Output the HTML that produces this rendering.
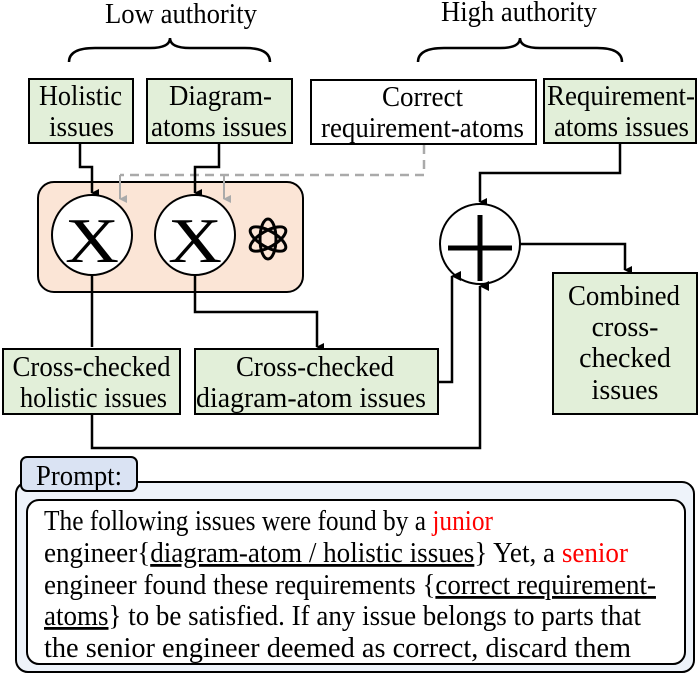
<!DOCTYPE html>
<html><head><meta charset="utf-8"></head><body style="margin:0;background:#fff;">
<svg width="698" height="675" viewBox="0 0 698 675" xmlns="http://www.w3.org/2000/svg" font-family="'Liberation Serif', 'Times New Roman', serif" font-size="28" style="font-family:'Liberation Serif','Times New Roman',serif;font-size:28px;">
<defs>
<marker id="a" markerWidth="8" markerHeight="8" refX="4" refY="7" orient="auto" markerUnits="userSpaceOnUse"><path d="M0,0 L8,0 L4,8 Z" fill="#000"/></marker>
<marker id="g" markerWidth="8" markerHeight="8" refX="4" refY="7" orient="auto" markerUnits="userSpaceOnUse"><path d="M0,0 L8,0 L4,8 Z" fill="#aaa"/></marker>
<marker id="au" markerWidth="10" markerHeight="10" refX="5" refY="1" orient="auto" markerUnits="userSpaceOnUse"><path d="M0,10 L10,10 L5,0 Z" fill="#000"/></marker>
</defs>
<text x="105" y="23" textLength="152" lengthAdjust="spacingAndGlyphs">Low authority</text>
<text x="441" y="21" textLength="156" lengthAdjust="spacingAndGlyphs">High authority</text>
<path d="M69,62 Q69,48 95,48 L150,48 Q170,48 170,38 Q170,48 190,48 L245,48 Q270,48 270,62" fill="none" stroke="#000" stroke-width="2.5"/>
<path d="M418,62 Q418,48 444,48 L500,48 Q520,48 520,38 Q520,48 540,48 L597,48 Q622,48 622,62" fill="none" stroke="#000" stroke-width="2.5"/>
<rect x="29" y="79" width="104" height="64" fill="#e2efd9" stroke="#000" stroke-width="2"/>
<text x="39" y="105" textLength="83" lengthAdjust="spacingAndGlyphs">Holistic</text><text x="49" y="136" textLength="65" lengthAdjust="spacingAndGlyphs">issues</text>
<rect x="147" y="79" width="145" height="64" fill="#e2efd9" stroke="#000" stroke-width="2"/>
<text x="169" y="105" textLength="103" lengthAdjust="spacingAndGlyphs">Diagram-</text><text x="151" y="136" textLength="136" lengthAdjust="spacingAndGlyphs">atoms issues</text>
<rect x="311" y="80" width="225" height="64" fill="#fff" stroke="#000" stroke-width="2"/>
<text x="382" y="106" textLength="81" lengthAdjust="spacingAndGlyphs">Correct</text><text x="321" y="137" textLength="203" lengthAdjust="spacingAndGlyphs">requirement-atoms</text>
<rect x="544" y="79" width="152" height="64" fill="#e2efd9" stroke="#000" stroke-width="2"/>
<text x="547" y="105" textLength="148" lengthAdjust="spacingAndGlyphs">Requirement-</text><text x="554" y="136" textLength="135" lengthAdjust="spacingAndGlyphs">atoms issues</text>
<rect x="38" y="182" width="265" height="110" rx="16" fill="#fbe5d6" stroke="#000" stroke-width="2"/>
<path d="M424,145 L424,175 L120,175" fill="none" stroke="#aaa" stroke-width="2.5" stroke-dasharray="9,6"/>
<path d="M120,175 L120,199" fill="none" stroke="#aaa" stroke-width="2" marker-end="url(#g)"/>
<path d="M224,175 L224,199" fill="none" stroke="#aaa" stroke-width="2" marker-end="url(#g)"/>
<path d="M80,143 L80,167 L92,167 L92,193" fill="none" stroke="#000" stroke-width="2.5" marker-end="url(#a)"/>
<path d="M219,143 L219,167 L195,167 L195,193" fill="none" stroke="#000" stroke-width="2.5" marker-end="url(#a)"/>
<circle cx="92" cy="235" r="40" fill="#fff" stroke="#000" stroke-width="2"/>
<circle cx="195" cy="235" r="40" fill="#fff" stroke="#000" stroke-width="2"/>
<text x="65" y="262" textLength="54" lengthAdjust="spacingAndGlyphs" font-size="64" style="font-size:64px">X</text>
<text x="168" y="262" textLength="54" lengthAdjust="spacingAndGlyphs" font-size="64" style="font-size:64px">X</text>
<g transform="translate(268,239)" fill="none" stroke="#000" stroke-width="3">
<ellipse rx="8" ry="20"/>
<ellipse rx="8" ry="20" transform="rotate(60)"/>
<ellipse rx="8" ry="20" transform="rotate(120)"/>
</g>
<path d="M92,275 L92,347" fill="none" stroke="#000" stroke-width="2.5"/>
<path d="M195,275 L195,312 L317,312 L317,347" fill="none" stroke="#000" stroke-width="2.5" marker-end="url(#a)"/>
<rect x="3" y="349" width="177" height="65" fill="#e2efd9" stroke="#000" stroke-width="2"/>
<text x="12.5" y="376" textLength="158" lengthAdjust="spacingAndGlyphs">Cross-checked</text><text x="20" y="407" textLength="147" lengthAdjust="spacingAndGlyphs">holistic issues</text>
<rect x="195" y="349" width="243" height="65" fill="#e2efd9" stroke="#000" stroke-width="2"/>
<text x="236" y="376" textLength="158" lengthAdjust="spacingAndGlyphs">Cross-checked</text><text x="196" y="407" textLength="230" lengthAdjust="spacingAndGlyphs">diagram-atom issues</text>
<path d="M620,143 L620,173 L480,173 L480,202" fill="none" stroke="#000" stroke-width="2.5" marker-end="url(#a)"/>
<circle cx="480" cy="244" r="40" fill="#fff" stroke="#000" stroke-width="2"/>
<path d="M448,248 L512,248 M480,215 L480,281" stroke="#000" stroke-width="5"/>
<path d="M520,244 L625,244 L625,270" fill="none" stroke="#000" stroke-width="2.5" marker-end="url(#a)"/>
<path d="M438,382 L452,382 L452,276" fill="none" stroke="#000" stroke-width="2.5" marker-end="url(#au)"/>
<path d="M92,414 L92,448 L480,448 L480,286" fill="none" stroke="#000" stroke-width="2.5" marker-end="url(#au)"/>
<rect x="553" y="273" width="144" height="141" fill="#e2efd9" stroke="#000" stroke-width="2"/>
<text x="568" y="305" textLength="112" lengthAdjust="spacingAndGlyphs">Combined</text>
<text x="625" y="336" text-anchor="middle">cross-</text>
<text x="625" y="367" text-anchor="middle">checked</text>
<text x="625" y="399" text-anchor="middle">issues</text>
<rect x="16" y="482" width="678" height="190" rx="12" fill="#eef3fa" stroke="#000" stroke-width="2"/>
<rect x="21" y="457" width="116" height="34" rx="6" fill="#dae3f3" stroke="#000" stroke-width="2"/>
<text x="36" y="485" textLength="86" lengthAdjust="spacingAndGlyphs">Prompt:</text>
<rect x="27" y="500" width="658" height="164" rx="12" fill="#fff" stroke="#000" stroke-width="2"/>
<text x="44" y="530" textLength="449" lengthAdjust="spacingAndGlyphs">The following issues were found by a <tspan fill="#f00">junior</tspan></text>
<text x="44" y="562" textLength="584" lengthAdjust="spacingAndGlyphs">engineer{<tspan text-decoration="underline">diagram-atom / holistic issues</tspan>} Yet, a <tspan fill="#f00">senior</tspan></text>
<text x="44" y="594" textLength="612" lengthAdjust="spacingAndGlyphs">engineer found these requirements {<tspan text-decoration="underline">correct requirement-</tspan></text>
<text x="44" y="625" textLength="597" lengthAdjust="spacingAndGlyphs"><tspan text-decoration="underline">atoms</tspan>} to be satisfied. If any issue belongs to parts that</text>
<text x="44" y="657" textLength="587" lengthAdjust="spacingAndGlyphs">the senior engineer deemed as correct, discard them</text>
</svg>
</body></html>
